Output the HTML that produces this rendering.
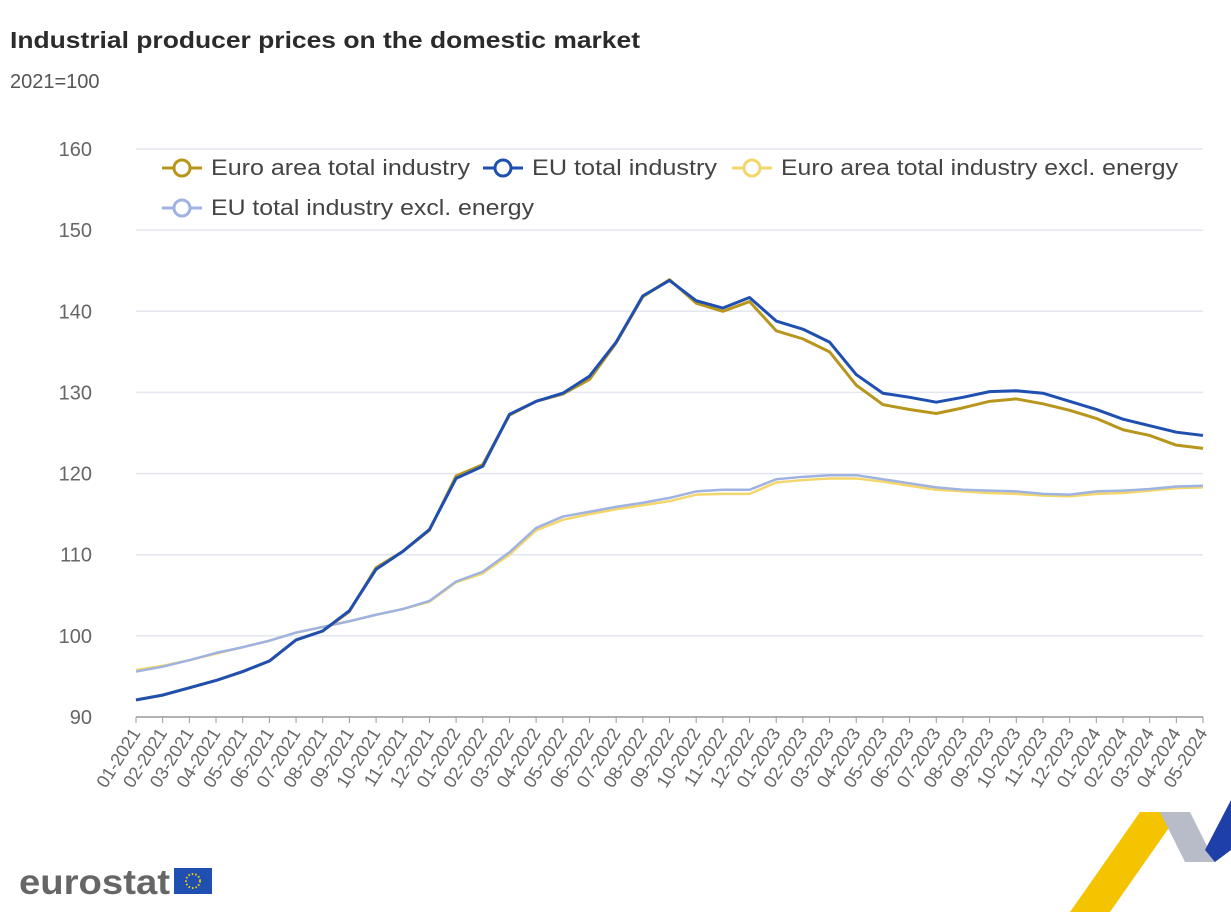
<!DOCTYPE html>
<html><head><meta charset="utf-8"><style>
body{margin:0;background:#fff;font-family:"Liberation Sans",sans-serif}
svg text{font-family:"Liberation Sans",sans-serif}
</style></head><body>
<svg id="c" width="1231" height="912" viewBox="0 0 1231 912">
<text x="10" y="48" font-size="23" font-weight="bold" fill="#2b2b2b" textLength="630" lengthAdjust="spacingAndGlyphs">Industrial producer prices on the domestic market</text>
<text x="10" y="88" font-size="20" fill="#555">2021=100</text>
<g id="grid"></g><g id="xax"></g><g id="lines"></g>
<g font-size="22" fill="#444">
 <g><line x1="162" y1="168" x2="202" y2="168" stroke="#b8961c" stroke-width="3"/><circle cx="182" cy="168" r="8" fill="#fff" stroke="#b8961c" stroke-width="3"/><text x="211" y="175" textLength="259" lengthAdjust="spacingAndGlyphs">Euro area total industry</text></g>
 <g><line x1="483" y1="168" x2="523" y2="168" stroke="#1f4fb0" stroke-width="3"/><circle cx="503" cy="168" r="8" fill="#fff" stroke="#1f4fb0" stroke-width="3"/><text x="532" y="175" textLength="185" lengthAdjust="spacingAndGlyphs">EU total industry</text></g>
 <g><line x1="732" y1="168" x2="772" y2="168" stroke="#f5d66b" stroke-width="3"/><circle cx="752" cy="168" r="8" fill="#fff" stroke="#f5d66b" stroke-width="3"/><text x="781" y="175" textLength="397" lengthAdjust="spacingAndGlyphs">Euro area total industry excl. energy</text></g>
 <g><line x1="162" y1="208" x2="202" y2="208" stroke="#9fb3e0" stroke-width="3"/><circle cx="182" cy="208" r="8" fill="#fff" stroke="#9fb3e0" stroke-width="3"/><text x="211" y="215" textLength="323" lengthAdjust="spacingAndGlyphs">EU total industry excl. energy</text></g>
</g>
<g><text x="19" y="894" font-size="35" font-weight="bold" fill="#666" textLength="151" lengthAdjust="spacingAndGlyphs">eurostat</text><rect x="174" y="868" width="38" height="26" fill="#1f4fb0"/><circle cx="193" cy="881" r="7" fill="none" stroke="#f5d000" stroke-width="2" stroke-dasharray="1.5 2"/></g>
<g><polygon points="1070,912 1140,812 1180,812 1110,912" fill="#f5c400"/><polygon points="1160,812 1190,812 1215,862 1185,862" fill="#b8bcc8"/><polygon points="1205,850 1231,800 1231,850 1215,862" fill="#1f3fa8"/></g>
</svg>
<script>
const months=["01-2021","02-2021","03-2021","04-2021","05-2021","06-2021","07-2021","08-2021","09-2021","10-2021","11-2021","12-2021","01-2022","02-2022","03-2022","04-2022","05-2022","06-2022","07-2022","08-2022","09-2022","10-2022","11-2022","12-2022","01-2023","02-2023","03-2023","04-2023","05-2023","06-2023","07-2023","08-2023","09-2023","10-2023","11-2023","12-2023","01-2024","02-2024","03-2024","04-2024","05-2024"];
const yTicks=[90,100,110,120,130,140,150,160];
const euTotal=[92.1,92.7,93.6,94.5,95.6,96.9,99.5,100.6,103.1,108.2,110.4,113.1,119.4,120.9,127.3,128.9,129.9,132.0,136.2,141.9,143.8,141.3,140.4,141.7,138.8,137.8,136.2,132.2,129.9,129.4,128.8,129.4,130.1,130.2,129.9,128.9,127.9,126.7,125.9,125.1,124.7];
const euroTotal=[92.1,92.7,93.6,94.5,95.6,96.9,99.5,100.6,103.0,108.4,110.4,113.0,119.7,121.1,127.2,128.9,129.8,131.6,136.1,141.8,143.9,141.0,140.0,141.2,137.6,136.6,135.0,130.9,128.5,127.9,127.4,128.1,128.9,129.2,128.6,127.8,126.8,125.4,124.7,123.5,123.1];
const euroExcl=[95.8,96.3,97.0,97.8,98.6,99.4,100.4,101.1,101.8,102.6,103.3,104.2,106.6,107.7,110.0,113.0,114.3,115.0,115.6,116.1,116.6,117.4,117.5,117.5,118.9,119.2,119.4,119.4,119.0,118.5,118.0,117.8,117.6,117.5,117.3,117.2,117.5,117.6,117.9,118.2,118.3];
const euExcl=[95.6,96.2,97.0,97.9,98.6,99.4,100.4,101.1,101.8,102.6,103.3,104.3,106.7,107.9,110.3,113.3,114.7,115.3,115.9,116.4,117.0,117.8,118.0,118.0,119.3,119.6,119.8,119.8,119.3,118.8,118.3,118.0,117.9,117.8,117.5,117.4,117.8,117.9,118.1,118.4,118.5];
const NS="http://www.w3.org/2000/svg";
const x0=136,x1=1203,yTop=149,yBot=717,vMin=90,vMax=160;
const xs=i=>x0+(x1-x0)*i/(months.length-1);
const ys=v=>yBot-(v-vMin)/(vMax-vMin)*(yBot-yTop);
function mk(t,a,p){const e=document.createElementNS(NS,t);for(const k in a)e.setAttribute(k,a[k]);p.appendChild(e);return e;}
const g=document.getElementById('grid');
yTicks.forEach(v=>{
 const l=mk('line',{x1:x0,x2:x1,y1:ys(v),y2:ys(v),stroke:v===90?'#999':'#e3e6ef','stroke-width':1.5},g);
 
 
 const t=mk('text',{x:92,y:ys(v)+7,'text-anchor':'end','font-size':20,fill:'#666'},g);
 t.textContent=v;
 
 
});
const xa=document.getElementById('xax');
months.forEach((m,i)=>{
 const x=xs(i);
 const tk=mk('line',{x1:x,x2:x,y1:yBot,y2:yBot+6,stroke:'#999','stroke-width':1},xa);
 
 
 const t=mk('text',{x:x+5,y:yBot+16,'text-anchor':'end','font-size':18,fill:'#666',transform:`rotate(-58 ${x+5} ${yBot+16})`},xa);
 t.textContent=m;
 
 
});
const lg=document.getElementById('lines');
[[euroExcl,'#f5d66b',2.5,'line-euro-excl-energy'],[euExcl,'#9fb3e0',2.5,'line-eu-excl-energy'],[euroTotal,'#b8961c',3,'line-euro-total'],[euTotal,'#1f4fb0',3,'line-eu-total']].forEach(s=>{
 const p=mk('polyline',{points:s[0].map((v,i)=>xs(i)+','+ys(v)).join(' '),fill:'none',stroke:s[1],'stroke-width':s[2],'stroke-linejoin':'round'},lg);
 
 
});
</script>
</body></html>
